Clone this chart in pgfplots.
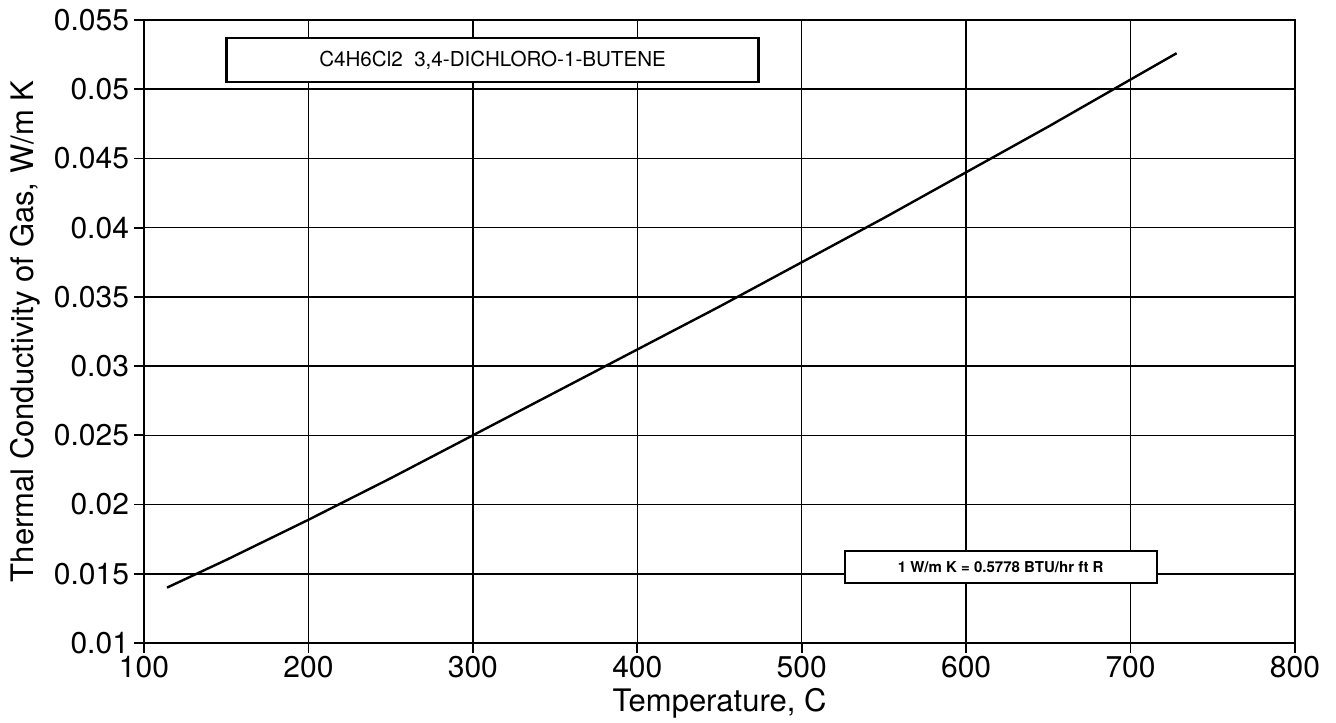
\documentclass[border=0pt]{standalone}
\usepackage{fontspec}
\setmainfont{TeX Gyre Heros}
\usepackage{pgfplots}
\pgfplotsset{compat=1.18}
\begin{document}
\begin{tikzpicture}
\useasboundingbox (-72pt,-39.5pt) rectangle (596pt,321.5pt);
\begin{axis}[
  at={(0pt,0pt)}, anchor=south west,
  scale only axis, width=575.5pt, height=311.5pt,
  xmin=100, xmax=800, ymin=0.01, ymax=0.055,
  xtick={100,200,...,800},
  ytick={0.01,0.015,0.02,0.025,0.03,0.035,0.04,0.045,0.05,0.055},
  /pgf/number format/assume math mode=true,
  yticklabel style={/pgf/number format/fixed,/pgf/number format/precision=3, xshift=1pt},
  scaled y ticks=false,
  tick align=outside, xtick pos=left, ytick pos=left,
  major tick length=5pt,
  tick style={black, line width=0.9pt},
  grid=major,
  major grid style={black, line width=0.75pt},
  axis line style={black, line width=1.1pt},
  ticklabel style={font=\fontsize{15}{17}\selectfont},
  xticklabel style={yshift=2pt},
  xlabel={Temperature, C},
  ylabel={Thermal Conductivity of Gas, W/m K},
  label style={font=\fontsize{15.5}{18}\selectfont},
  xlabel style={at={(axis description cs:0.5,-0.0963)}, anchor=center},
  ylabel style={at={(axis description cs:-0.1034,0.5)}, anchor=center},
]
\addplot[black, line width=1.2pt] coordinates {
  (114,0.0140) (150,0.0160) (200,0.0189) (250,0.0219) (300,0.0250)
  (350,0.0281) (400,0.0312) (450,0.0343) (500,0.0375) (550,0.0407)
  (600,0.0440) (650,0.0473) (700,0.0507) (728,0.0526)
};
\node[draw=black, line width=1.1pt, fill=white, minimum width=266pt, minimum height=22pt,
  inner sep=0pt, font=\fontsize{10.3}{12}\selectfont]
  at (axis cs:312,0.0521) {C4H6Cl2\ \ 3,4-DICHLORO-1-BUTENE};
\node[draw=black, line width=1.1pt, fill=white, minimum width=156pt, minimum height=16pt,
  inner sep=0pt, font=\fontsize{7.5}{9}\selectfont\bfseries]
  at (axis cs:621,0.0155) {1 W/m K = 0.5778 BTU/hr ft R};
\end{axis}
\end{tikzpicture}
\end{document}
